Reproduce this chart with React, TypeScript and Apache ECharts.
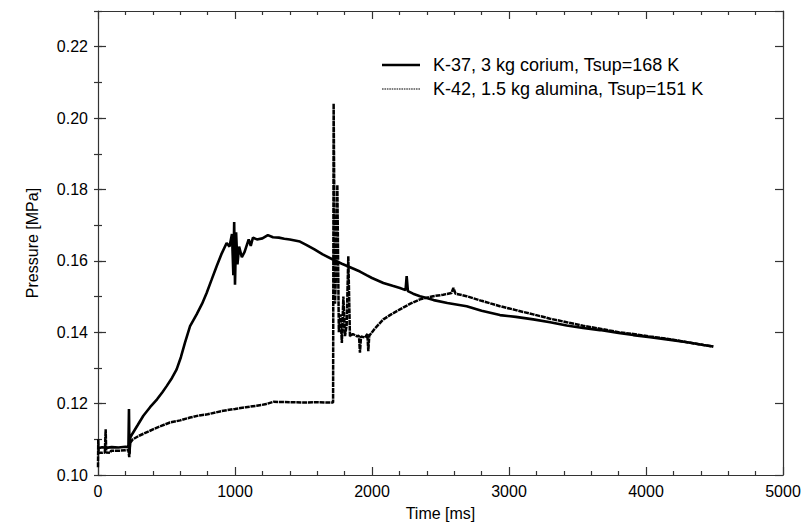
import React, { useEffect, useRef } from "react";
import * as echarts from "echarts";

const seriesNames = [
  "K-37, 3 kg corium, Tsup=168 K",
  "K-42, 1.5 kg alumina, Tsup=151 K",
];

const xTickValues = [0, 1000, 2000, 3000, 4000, 5000];
const yTickValues = [0.1, 0.12, 0.14, 0.16, 0.18, 0.2, 0.22];

// [time ms, pressure MPa]
const k37: [number, number][] = [
  [0, 0.1075], [30, 0.1078], [60, 0.1076], [100, 0.1078], [150, 0.1077], [200, 0.1079],
  [222, 0.1078], [226, 0.1185], [230, 0.106], [236, 0.1105], [250, 0.1115], [290, 0.114],
  [331, 0.1166], [380, 0.119], [431, 0.1212], [470, 0.1232], [501, 0.1249], [540, 0.1272],
  [574, 0.1296], [605, 0.133], [635, 0.1371], [672, 0.1417], [720, 0.145], [760, 0.148],
  [793, 0.151], [830, 0.1548], [866, 0.1585], [900, 0.1618], [939, 0.165], [960, 0.164],
  [978, 0.1675], [988, 0.156], [994, 0.1709], [1000, 0.1533], [1008, 0.168], [1018, 0.159],
  [1030, 0.164], [1050, 0.161], [1070, 0.1625], [1100, 0.166], [1115, 0.1642], [1131, 0.1665],
  [1160, 0.166], [1200, 0.1663], [1240, 0.1672], [1277, 0.1666], [1320, 0.1665], [1360, 0.1662],
  [1400, 0.166], [1474, 0.1654], [1520, 0.1645], [1580, 0.1632], [1640, 0.1618], [1718, 0.1603],
  [1780, 0.1592], [1840, 0.1582], [1912, 0.157], [1960, 0.156], [2000, 0.1552], [2083, 0.1538],
  [2150, 0.153], [2204, 0.1524], [2245, 0.1518], [2253, 0.1557], [2262, 0.1515], [2300, 0.1508],
  [2350, 0.1501], [2399, 0.1496], [2450, 0.149], [2550, 0.1482], [2691, 0.1473], [2800, 0.146],
  [2934, 0.1448], [3050, 0.1443], [3177, 0.1436], [3300, 0.1428], [3421, 0.1419], [3540, 0.1412],
  [3664, 0.1406], [3800, 0.1398], [3907, 0.1392], [4030, 0.1386], [4151, 0.138], [4300, 0.1372],
  [4420, 0.1364], [4491, 0.136],
];

const k42: [number, number][] = [
  [0, 0.1022], [2, 0.11], [5, 0.1062], [30, 0.1062], [50, 0.1063], [56, 0.1128], [60, 0.1063],
  [90, 0.1062], [95, 0.1068], [150, 0.1068], [200, 0.1069], [222, 0.107], [228, 0.105],
  [234, 0.109], [255, 0.11], [300, 0.111], [380, 0.1124], [450, 0.1136], [526, 0.1147],
  [600, 0.1153], [672, 0.1161], [740, 0.1167], [800, 0.117], [915, 0.118], [1000, 0.1185],
  [1080, 0.119], [1158, 0.1194], [1220, 0.1198], [1280, 0.1205], [1400, 0.1204], [1500, 0.1203],
  [1600, 0.1204], [1693, 0.1203], [1716, 0.1203], [1720, 0.2041], [1730, 0.148], [1740, 0.16],
  [1747, 0.1813], [1758, 0.14], [1770, 0.145], [1780, 0.137], [1791, 0.15], [1803, 0.1389],
  [1815, 0.142], [1827, 0.1613], [1839, 0.1389], [1860, 0.1395], [1888, 0.1389], [1905, 0.139],
  [1912, 0.1343], [1920, 0.1388], [1950, 0.1385], [1966, 0.1395], [1973, 0.1347], [1980, 0.139],
  [2020, 0.141], [2083, 0.1436], [2140, 0.145], [2204, 0.1464], [2280, 0.148], [2350, 0.1492],
  [2447, 0.1501], [2520, 0.1505], [2580, 0.151], [2594, 0.1524], [2610, 0.1508], [2691, 0.1501],
  [2800, 0.1488], [2934, 0.1473], [3050, 0.1462], [3177, 0.145], [3300, 0.1438], [3421, 0.1428],
  [3540, 0.1418], [3664, 0.141], [3800, 0.14], [3907, 0.1395], [4030, 0.1388], [4151, 0.1382],
  [4300, 0.1372], [4420, 0.1364], [4491, 0.136],
];

const FONT = "'Liberation Sans', Arial, Helvetica, sans-serif";
const INK = "#000";
const AXIS = "#333";

// dotted legend sample (style only)
function dottedIcon(): string {
  let d = "path://";
  for (let i = 0; i < 16; i++) {
    const x = i * 2.4;
    d += `M${x.toFixed(1)},0h1.6v1h-1.6z`;
  }
  return d;
}

export default function App() {
  const ref = useRef<HTMLDivElement>(null);

  useEffect(() => {
    document.body.style.margin = "0";
    if (!ref.current) return;
    const chart = echarts.init(ref.current, undefined, { renderer: "svg" });

    const xBase = {
      type: "value" as const,
      min: xTickValues[0],
      max: xTickValues[xTickValues.length - 1],
      interval: 1000,
      splitLine: { show: false },
      axisLine: { show: true, onZero: false, lineStyle: { color: AXIS, width: 1.2 } },
      axisTick: { show: true, inside: true, length: 8, lineStyle: { color: AXIS, width: 1.2 } },
      minorTick: { show: true, splitNumber: 5, length: 4, lineStyle: { color: AXIS, width: 1.2 } },
    };
    const yRange = { type: "value" as const, min: 0.1, max: 0.23, splitLine: { show: false } };

    chart.setOption({
      animation: false,
      backgroundColor: "#fff",
      grid: { left: 98, right: 21, top: 11, bottom: 56, containLabel: false },
      legend: {
        orient: "vertical",
        left: 377,
        top: 51,
        itemWidth: 38,
        itemHeight: 2.6,
        itemGap: 6,
        data: [
          { name: seriesNames[0], icon: "rect" },
          { name: seriesNames[1], icon: dottedIcon() },
        ],
        textStyle: { fontFamily: FONT, fontSize: 18, color: INK, padding: [0, 0, 0, 8] },
      },
      xAxis: [
        {
          ...xBase,
          position: "bottom",
          name: "Time [ms]",
          nameLocation: "middle",
          nameGap: 30,
          nameTextStyle: { fontFamily: FONT, fontSize: 16, color: INK },
          axisLabel: {
            show: true,
            margin: 8,
            fontFamily: FONT,
            fontSize: 16,
            color: INK,
            formatter: (v: number) => String(v),
          },
        },
        { ...xBase, position: "top", axisLabel: { show: false } },
      ],
      yAxis: [
        {
          ...yRange,
          position: "left",
          interval: 0.02,
          name: "Pressure [MPa]",
          nameLocation: "middle",
          nameGap: 58,
          nameTextStyle: { fontFamily: FONT, fontSize: 16, color: INK },
          axisLine: { show: true, onZero: false, lineStyle: { color: AXIS, width: 1.2 } },
          axisTick: { show: true, inside: true, length: 8, lineStyle: { color: AXIS, width: 1.2 } },
          axisLabel: {
            show: true,
            margin: 10,
            showMaxLabel: false,
            fontFamily: FONT,
            fontSize: 16,
            color: INK,
            formatter: (v: number) => (yTickValues.some((t) => Math.abs(t - v) < 1e-6) ? v.toFixed(2) : ""),
          },
        },
        {
          ...yRange,
          position: "left",
          interval: 0.01,
          axisLine: { show: false },
          axisLabel: { show: false },
          axisTick: { show: true, inside: true, length: 4, lineStyle: { color: AXIS, width: 1.2 } },
        },
        {
          ...yRange,
          position: "right",
          interval: 0.02,
          axisLine: { show: true, onZero: false, lineStyle: { color: AXIS, width: 1.2 } },
          axisTick: { show: true, inside: true, length: 8, lineStyle: { color: AXIS, width: 1.2 } },
          axisLabel: { show: false },
        },
        {
          ...yRange,
          position: "right",
          interval: 0.01,
          axisLine: { show: false },
          axisLabel: { show: false },
          axisTick: { show: true, inside: true, length: 4, lineStyle: { color: AXIS, width: 1.2 } },
        },
      ],
      series: [
        {
          name: seriesNames[0],
          type: "line",
          data: k37,
          symbol: "none",
          showSymbol: false,
          xAxisIndex: 0,
          yAxisIndex: 0,
          lineStyle: { color: "#000", width: 2.6 },
          itemStyle: { color: "#000" },
          z: 3,
        },
        {
          name: seriesNames[1],
          type: "line",
          data: k42,
          symbol: "none",
          showSymbol: false,
          xAxisIndex: 0,
          yAxisIndex: 0,
          lineStyle: { color: "#000", width: 2.5, type: [5, 0.8] },
          itemStyle: { color: "#000" },
          z: 2,
        },
      ],
    });

    return () => chart.dispose();
  }, []);

  return <div ref={ref} style={{ width: 804, height: 531 }} />;
}
